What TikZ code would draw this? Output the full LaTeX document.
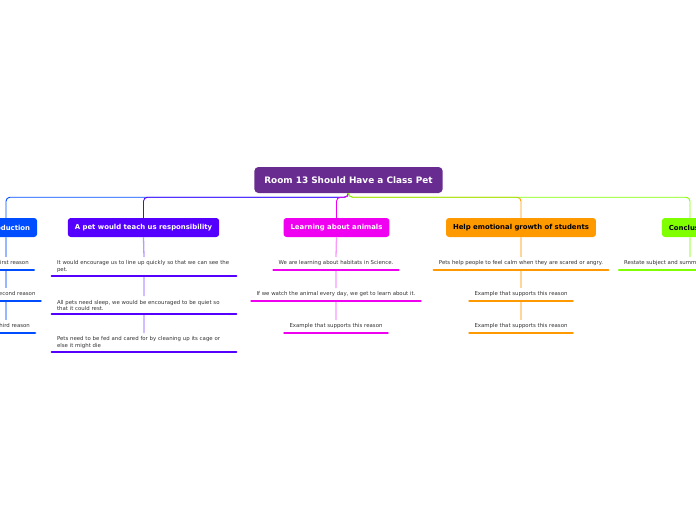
\documentclass[tikz,border=0pt]{standalone}
\usepackage{fontspec}
\setmainfont{DejaVu Sans}
\definecolor{rootc}{RGB}{104,44,145}
\definecolor{introc}{RGB}{0,76,255}
\definecolor{respc}{RGB}{85,0,255}
\definecolor{learnc}{RGB}{240,0,240}
\definecolor{emotc}{RGB}{255,153,0}
\definecolor{conclc}{RGB}{128,255,0}
\definecolor{childtext}{RGB}{51,51,51}
\begin{document}
\begin{tikzpicture}[x=1pt,y=-1pt,
  rootbox/.style={fill=rootc, rounded corners=4pt, minimum height=26pt, inner xsep=10pt, inner ysep=0pt, text=white, font=\fontsize{8.9}{10}\selectfont\bfseries},
  branch/.style={fill=#1, rounded corners=3pt, minimum height=19pt, inner xsep=7pt, inner ysep=0pt, font=\fontsize{6.9}{8}\selectfont\bfseries},
  child/.style={inner xsep=5pt, inner ysep=3.5pt, anchor=south, text=childtext, font=\fontsize{5.4}{6.2}\selectfont},
  oneline/.style={text height=4pt, text depth=1.5pt},
  twoline/.style={text width=174pt, align=left},
  bar/.style={line width=2.6pt, line cap=round, draw=#1},
  link/.style={line width=0.9pt, rounded corners=4pt, draw=#1},
  stem/.style={line width=1.3pt, draw=#1!40}
]
\useasboundingbox (0,0) rectangle (696,520);

% root and branches
\node[rootbox] (root) at (348.5,180) {Room 13 Should Have a Class Pet};
\node[branch=introc, text=white] (intro) at (6,227.5) {Introduction};
\node[branch=respc, text=white] (resp) at (143.5,227.5) {A pet would teach us responsibility};
\node[branch=learnc, text=white] (learn) at (336.5,227.5) {Learning about animals};
\node[branch=emotc, text=black] (emot) at (521,227.5) {Help emotional growth of students};
\node[branch=conclc, text=black] (concl) at (690,227.5) {Conclusion};

% links from root
\draw[link=introc] (root.south) -- ++(0,4) -| (intro.north);
\draw[link=respc] (root.south) -- ++(0,4) -| (resp.north);
\draw[link=learnc] (root.south) -- ++(0,4) -| (learn.north);
\draw[link=emotc] (root.south) -- ++(0,4) -| (emot.north);
\draw[link=conclc] (root.south) -- ++(0,4) -| (concl.north);

% children nodes
\node[child, oneline] (i1) at (13,270) {First reason};
\node[child, oneline] (i2) at (15.5,301) {Second reason};
\node[child, oneline] (i3) at (13,333) {Third reason};

\node[child, twoline] (r1) at (144,276) {It would encourage us to line up quickly so that we can see the pet.};
\node[child, twoline] (r2) at (144,314) {All pets need sleep, we would be encouraged to be quiet so that it could rest.};
\node[child, twoline] (r3) at (144,352) {Pets need to be fed and cared for by cleaning up its cage or else it might die};

\node[child, oneline] (l1) at (336,270) {We are learning about habitats in Science.};
\node[child, oneline] (l2) at (336,301) {If we watch the animal every day, we get to learn about it.};
\node[child, oneline] (l3) at (336,333) {Example that supports this reason};

\node[child, oneline] (e1) at (521,270) {Pets help people to feel calm when they are scared or angry.};
\node[child, oneline] (e2) at (521,301) {Example that supports this reason};
\node[child, oneline] (e3) at (521,333) {Example that supports this reason};

\node[child, oneline, anchor=south west] (c1) at (619,270) {Restate subject and summarize reasons};

% stems
\draw[stem=introc] (intro.south) -- (intro.south |- i1.north) (intro.south |- i1.south) -- (intro.south |- i2.north) (intro.south |- i2.south) -- (intro.south |- i3.north);
\draw[stem=respc] (resp.south) -- (r1.north) (r1.south) -- (r2.north) (r2.south) -- (r3.north);
\draw[stem=learnc] (learn.south) -- (l1.north) (l1.south) -- (l2.north) (l2.south) -- (l3.north);
\draw[stem=emotc] (emot.south) -- (e1.north) (e1.south) -- (e2.north) (e2.south) -- (e3.north);
\draw[stem=conclc] (concl.south) -- (concl.south |- c1.north);

% bars
\foreach \n in {i1,i2,i3} \draw[bar=introc] (\n.south west) -- (\n.south east);
\foreach \n in {r1,r2,r3} \draw[bar=respc] (\n.south west) -- (\n.south east);
\foreach \n in {l1,l2,l3} \draw[bar=learnc] (\n.south west) -- (\n.south east);
\foreach \n in {e1,e2,e3} \draw[bar=emotc] (\n.south west) -- (\n.south east);
\draw[bar=conclc] (c1.south west) -- (c1.south east);
\end{tikzpicture}
\end{document}
